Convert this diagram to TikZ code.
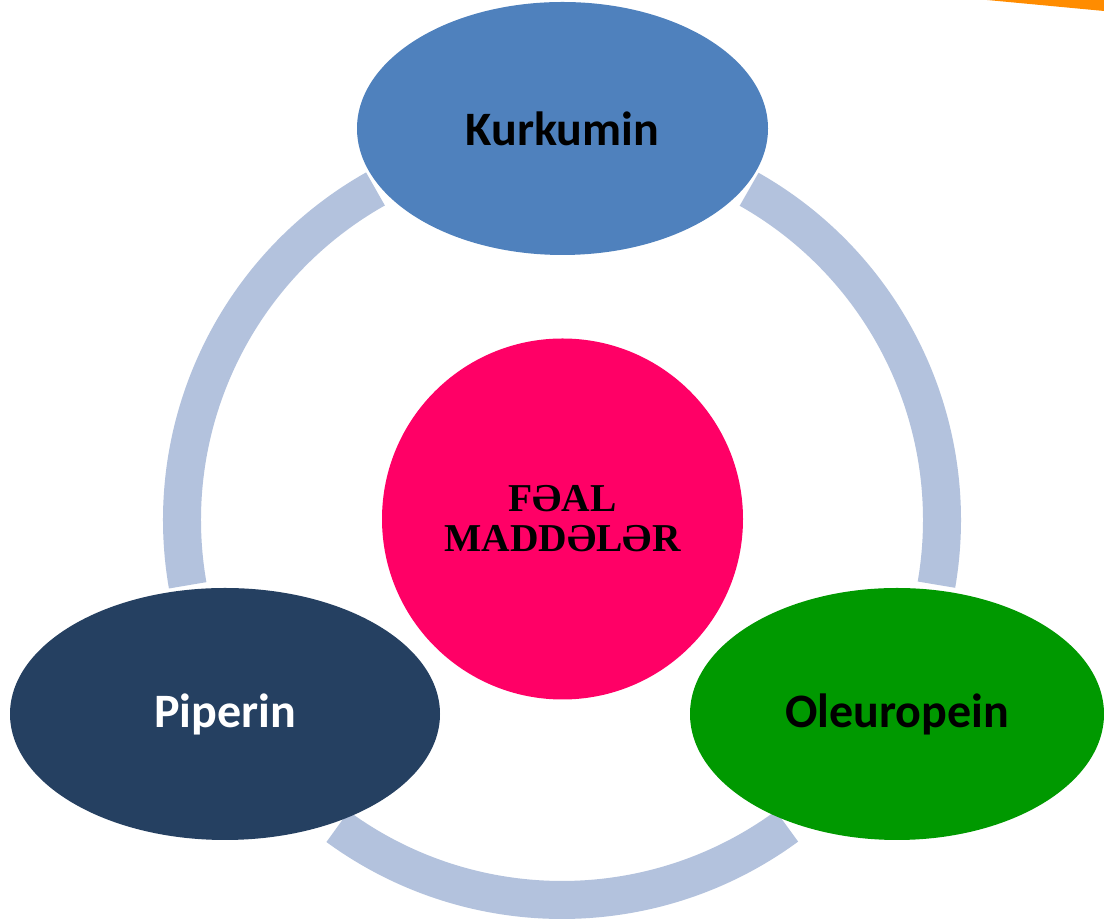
\documentclass[tikz,border=0pt]{standalone}
\usepackage{fontspec}
\setsansfont{Carlito}
\newfontfamily\serifb{Liberation Serif}
\usetikzlibrary{shapes.geometric}
\definecolor{ringc}{HTML}{B3C2DD}
\definecolor{kblue}{HTML}{4F81BD}
\definecolor{pnavy}{HTML}{254061}
\definecolor{ogreen}{HTML}{009900}
\definecolor{cpink}{HTML}{FF0066}
\definecolor{orng}{HTML}{FF8C00}
\begin{document}
\begin{tikzpicture}[x=1pt,y=1pt,
  ring/.style={draw=ringc,line width=38pt,line cap=butt},
  oval/.style={ellipse,inner sep=0pt,font=\sffamily\bfseries\fontsize{48}{52}\selectfont},
]
\useasboundingbox (0,0) rectangle (1104,920);
\clip (0,0) rectangle (1104,920);
\fill[white] (0,0) rectangle (1104,920);
% orange stroke at top right
\fill[orng] (987,920) -- (1104,920) -- (1104,909) -- cycle;
% ring
\coordinate (rc) at (562,400);
\draw[ring] ([shift={(60.5:380)}]rc) arc[start angle=60.5,end angle=-9.8,radius=380];
\draw[ring] ([shift={(-53.7:380)}]rc) arc[start angle=-53.7,end angle=-126.2,radius=380];
\draw[ring] ([shift={(189.9:380)}]rc) arc[start angle=189.9,end angle=119.4,radius=380];
% centre
\node[circle,fill=cpink,minimum size=361pt,inner sep=0pt,align=center,
  font=\serifb\bfseries\fontsize{39.5}{40}\selectfont] (c) at (562.5,401) {FƏAL\\MADDƏLƏR};
% ellipses
\node[oval,fill=kblue,minimum width=411pt,minimum height=253pt,text=black] (k) at (562.5,791.5) {Kurkumin};
\node[oval,fill=pnavy,minimum width=430pt,minimum height=252pt,text=white] (p) at (225,206) {Piperin};
\node[oval,fill=ogreen,minimum width=414pt,minimum height=252pt,text=black] (o) at (897,206) {Oleuropein};
\end{tikzpicture}
\end{document}
